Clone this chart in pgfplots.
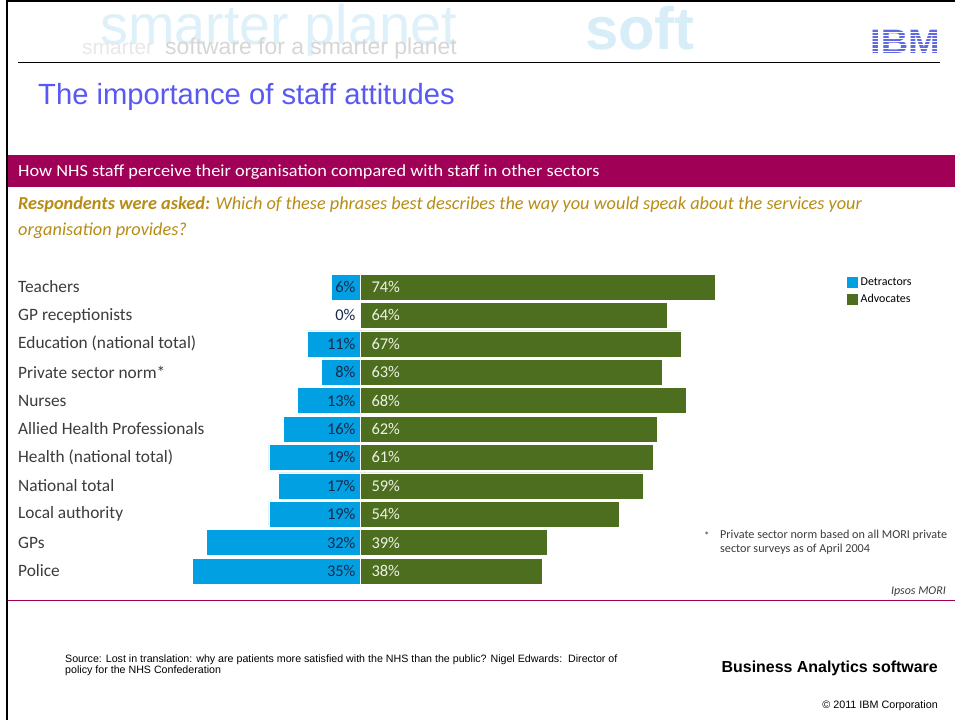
\documentclass[border=0pt]{standalone}
\usepackage{pgfplots}
\usepackage{pgfplotstable}
\pgfplotsset{compat=1.18}
\usepackage{fontspec}
\setmainfont{Carlito}
\newfontfamily\arial{Liberation Sans}
\newfontfamily\widecal[FakeStretch=1.08]{Carlito}
\definecolor{detblue}{RGB}{0,160,226}
\definecolor{advgreen}{RGB}{76,110,30}
\definecolor{band}{RGB}{160,0,85}
\definecolor{gold}{RGB}{184,140,20}
\definecolor{titleblue}{RGB}{88,88,245}
\definecolor{ibmblue}{RGB}{95,105,225}
\definecolor{catgray}{RGB}{60,60,60}
\definecolor{navy}{RGB}{25,40,75}
\definecolor{wm1}{RGB}{222,241,250}
\definecolor{wm2}{RGB}{215,238,248}
\definecolor{wm3}{RGB}{214,214,214}
\definecolor{wm4}{RGB}{232,232,232}
\definecolor{advlab}{RGB}{238,242,228}
\pgfplotstableread{
y det adv
10 6 74
9 0 64
8 11 67
7 8 63
6 13 68
5 16 62
4 19 61
3 17 59
2 19 54
1 32 39
0 35 38
}\datatable
\pgfplotsset{sqlegend/.style={legend image code/.code={\fill[##1] (0bp,-6bp) rectangle (12bp,6bp);}}}
\begin{document}
\begin{tikzpicture}[x=1bp,y=1bp]
\useasboundingbox (0,0) rectangle (955,-720);
\fill[white] (0,0) rectangle (955,-720);
% watermark
\node[anchor=base west, inner sep=0, text=wm1] at (100,-45) {\arial\fontsize{56}{56}\selectfont smarter planet};
\node[anchor=base west, inner sep=0, text=wm2] at (585,-50) {\arial\bfseries\fontsize{60}{60}\selectfont soft};
\node[anchor=base west, inner sep=0, text=wm4] at (82,-55) {\arial\fontsize{21}{21}\selectfont smarter};
\node[anchor=base west, inner sep=0, text=wm3] at (165,-55) {\arial\fontsize{23}{23}\selectfont software for a smarter planet};
% borders
\draw[black, line width=2.5bp] (7,0) -- (7,-720);
\draw[black, line width=2.5bp] (7,-1.2) -- (955,-1.2);
\draw[black, line width=1bp] (18,-62.5) -- (940,-62.5);
% IBM logo
\node[anchor=base east, inner sep=0, text=ibmblue, xscale=1.12] at (940,-54) {\arial\bfseries\fontsize{34}{34}\selectfont IBM};
\foreach \yy in {32,35.2,38.4,41.6,44.8,48,51.2} {\draw[white, line width=0.9bp] (870,-\yy) -- (945,-\yy);}
% title
\node[anchor=base west, inner sep=0, text=titleblue] at (38,-105) {\arial\fontsize{29.3}{32}\selectfont The importance of staff attitudes};
% band
\fill[band] (8,-155) rectangle (955,-187);
\node[anchor=base west, inner sep=0, text=white] at (18,-177) {\widecal\fontsize{17}{19}\selectfont How NHS staff perceive their organisation compared with staff in other sectors};
\node[anchor=base west, inner sep=0, text=gold] at (18,-209.5) {\fontsize{18.35}{20}\selectfont\itshape\textbf{Respondents were asked:} Which of these phrases best describes the way you would speak about the services your};
\node[anchor=base west, inner sep=0, text=gold] at (18,-235) {\fontsize{18.35}{20}\selectfont\itshape organisation provides?};
\draw[band, line width=1.5bp] (8,-600.5) -- (955,-600.5);
% chart
\begin{axis}[
  at={(168bp,-272.8bp)}, anchor=north west,
  scale only axis, width=576bp, height=312.4bp,
  xmin=-40, xmax=80, ymin=-0.5, ymax=10.5,
  axis line style={draw=none}, tick style={draw=none},
  xtick=\empty, ytick={0,...,10},
  yticklabels={Police,GPs,Local authority,National total,Health (national total),Allied Health Professionals,Nurses,Private sector norm*,Education (national total),GP receptionists,Teachers},
  yticklabel style={anchor=west, inner xsep=0pt, xshift=-150bp, text=catgray, font=\fontsize{17.4}{20}\selectfont},
  legend style={at={(1.1771,0.99)}, anchor=north west, draw=none, fill=none, inner sep=0pt,
    font=\fontsize{12}{13}\selectfont, row sep=3bp, cells={anchor=west}},
  clip=false,
]
\addplot[xbar, bar width=26bp, bar shift=0pt, fill=detblue, draw=white, line width=0.5bp, sqlegend] table[x expr=-\thisrow{det}, y=y]{\datatable};
\addlegendentry{Detractors}
\addplot[xbar, bar width=26bp, bar shift=0pt, fill=advgreen, draw=white, line width=0.5bp, sqlegend] table[x=adv, y=y]{\datatable};
\addlegendentry{Advocates}
\addplot[forget plot, draw=none, mark=none, point meta=explicit symbolic,
  nodes near coords={\pgfplotspointmeta\%},
  nodes near coords style={anchor=east, xshift=-1bp, text=navy, font=\fontsize{16.5}{18}\selectfont}]
  table[x expr=0, y=y, meta=det]{\datatable};
\addplot[forget plot, draw=none, mark=none, point meta=explicit symbolic,
  nodes near coords={\pgfplotspointmeta\%},
  nodes near coords style={anchor=west, xshift=8bp, text=advlab, font=\fontsize{16.5}{18}\selectfont}]
  table[x expr=0, y=y, meta=adv]{\datatable};
\end{axis}
% footnote
\node[anchor=base west, inner sep=0, text=catgray] at (704,-539) {\fontsize{11}{13}\selectfont *};
\node[anchor=north west, inner sep=0, align=left, text=catgray, font=\fontsize{12.2}{14}\selectfont] at (720,-530) {Private sector norm based on all MORI private\\sector surveys as of April 2004};
\node[anchor=base east, inner sep=0, text=catgray] at (946,-594) {\fontsize{12}{14}\selectfont\itshape Ipsos MORI};
% footer
\node[anchor=north west, inner sep=0, align=left, text=black, font=\arial\fontsize{10.7}{11}\selectfont] at (65,-655) {Source: Lost in translation: why are patients more satisfied with the NHS than the public? Nigel Edwards:\ \ Director of\\policy for the NHS Confederation};
\node[anchor=base east, inner sep=0] at (938,-672) {\arial\bfseries\fontsize{16}{18}\selectfont Business Analytics software};
\node[anchor=base east, inner sep=0] at (938,-708) {\arial\fontsize{10.8}{12}\selectfont \textcopyright\ 2011 IBM Corporation};
\end{tikzpicture}
\end{document}
